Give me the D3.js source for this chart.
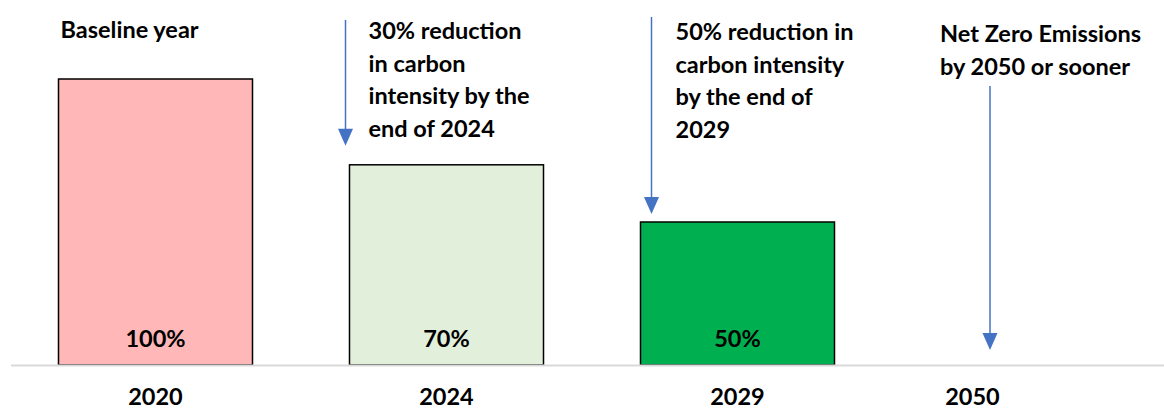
<!DOCTYPE html>
<html>
<head>
<meta charset="utf-8">
<script src="https://cdn.jsdelivr.net/npm/d3@7"></script>
<style>
  html, body { margin: 0; padding: 0; background: #ffffff; }
  svg { display: block; }
  text { font-family: Lato, "Open Sans", sans-serif; font-weight: 700; fill: #000; }
</style>
</head>
<body>
<svg id="chart" width="1164" height="410"></svg>
<script>
// ---- data ----
const categories = ["2020", "2024", "2029", "2050"];
const values = [100, 70, 50, null];
const valueLabels = ["100%", "70%", "50%", ""];
const barColors = ["#FFB7B7", "#E2EFDA", "#00B050", "none"];
const noteLines = [
  ["Baseline year"],
  ["30% reduction", "in carbon", "intensity by the", "end of 2024"],
  ["50% reduction in", "carbon intensity", "by the end of", "2029"],
  ["Net Zero Emissions", "by 2050 or sooner"]
];

// ---- layout ----
const W = 1164, H = 410;
const baseY = 365, topY = 79;
const fontSize = 23.5, lineH = 32.5;
const arrowColor = "#4472C4";

const svg = d3.select("#chart");

const x = d3.scaleBand()
  .domain(categories)
  .range([10, 1174])
  .paddingInner(1 / 3)
  .paddingOuter(1 / 6);

const y = d3.scaleLinear().domain([0, 100]).range([baseY, topY]);

const center = (c, i) => x(c) + x.bandwidth() / 2 + (i === 3 ? -56 : 0);

// bars
const barData = categories.map((c, i) => ({ c, v: values[i], label: valueLabels[i], color: barColors[i], i }))
  .filter(d => d.v != null);

svg.append("g").selectAll("rect")
  .data(barData)
  .join("rect")
  .attr("x", d => x(d.c))
  .attr("y", d => y(d.v))
  .attr("width", x.bandwidth())
  .attr("height", d => y(0) - y(d.v))
  .attr("fill", d => d.color)
  .attr("stroke", "#000")
  .attr("stroke-width", 1.5);

// value labels inside bars near bottom
svg.append("g").selectAll("text")
  .data(barData)
  .join("text")
  .attr("x", d => x(d.c) + x.bandwidth() / 2)
  .attr("y", baseY - 18)
  .attr("text-anchor", "middle")
  .attr("font-size", fontSize)
  .text(d => d.label);

// baseline axis line
svg.append("line")
  .attr("x1", 11).attr("x2", W)
  .attr("y1", baseY + 0.5).attr("y2", baseY + 0.5)
  .attr("stroke", "#D9D9D9")
  .attr("stroke-width", 2);

// category labels
svg.append("g").selectAll("text")
  .data(categories)
  .join("text")
  .attr("x", (c, i) => center(c, i))
  .attr("y", 405)
  .attr("text-anchor", "middle")
  .attr("font-size", fontSize)
  .text(c => c);

// annotations: text blocks (x offset from band start, first baseline)
const noteLayout = [
  { dx: 2, y0: 38 },
  { dx: 19, y0: 39 },
  { dx: 35, y0: 40 },
  { dx: 8.5, y0: 42 }
];
noteLines.forEach((lines, i) => {
  const L = noteLayout[i];
  const t = svg.append("text")
    .attr("x", x(categories[i]) + L.dx)
    .attr("y", L.y0)
    .attr("font-size", fontSize);
  lines.forEach((ln, k) => {
    t.append("tspan")
      .attr("x", x(categories[i]) + L.dx)
      .attr("y", L.y0 + k * lineH)
      .text(ln);
  });
});

// arrows (x offset from band start, y start, gap above target)
const arrows = [
  { cat: "2024", dx: -4, y1: 20, gap: 19 },
  { cat: "2029", dx: 11, y1: 17, gap: 8 },
  { cat: "2050", dx: 58.5, y1: 86, gap: 15 }
];
const arrowG = svg.append("g");
arrows.forEach(a => {
  const i = categories.indexOf(a.cat);
  const ax = x(a.cat) + a.dx;
  const targetY = values[i] != null ? y(values[i]) : baseY;
  const tipY = targetY - a.gap;
  const headL = 17, headW = 7.5;
  arrowG.append("line")
    .attr("x1", ax).attr("x2", ax)
    .attr("y1", a.y1).attr("y2", tipY - headL + 2)
    .attr("stroke", arrowColor)
    .attr("stroke-width", 1.5);
  arrowG.append("path")
    .attr("d", `M${ax - headW},${tipY - headL} L${ax + headW},${tipY - headL} L${ax},${tipY} Z`)
    .attr("fill", arrowColor);
});
</script>
</body>
</html>
